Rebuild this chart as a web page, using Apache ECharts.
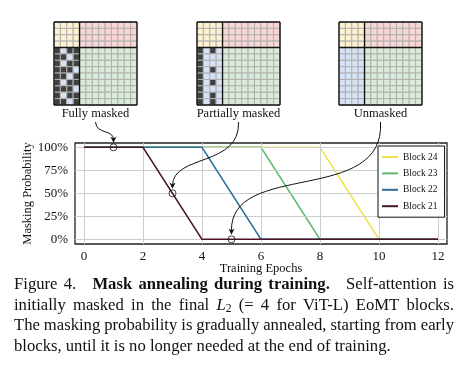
<!DOCTYPE html>
<html><head><meta charset="utf-8">
<script src="https://cdn.jsdelivr.net/npm/echarts@6/dist/echarts.min.js"></script>
<style>html,body{margin:0;padding:0;background:#fff;} #c{width:471px;height:367px;}</style>
</head><body><div id="c"></div>
<script>
// ---------------- data ----------------
const epochs = [0,1,2,3,4,5,6,7,8,9,10,11,12];
const block24 = [100,100,100,100,100,100,100,100,100,50,0,0,0];
const block23 = [100,100,100,100,100,100,100,50,0,0,0,0,0];
const block22 = [100,100,100,100,100,50,0,0,0,0,0,0,0];
const block21 = [100,100,100,50,0,0,0,0,0,0,0,0,0];
const seriesNames = ['Block 24','Block 23','Block 22','Block 21'];
const seriesColors = ['#f4e04d','#5db86b','#2b6f98','#4b1426'];
const xTicks = [0,2,4,6,8,10,12];
const yTicks = [0,25,50,75,100];
const annotLabels = ['Fully masked','Partially masked','Unmasked'];
const annotEpoch = [1,3,5];
const annotProb = [100,50,0];
// attention-mask illustration: 4 query tokens, 9 patch tokens; 1 = masked
const nQuery = 4, nPatch = 9;
const mask1 = [[1,0,1,1],[1,1,0,1],[1,0,1,1],[1,1,1,0],[1,1,0,1],[1,0,1,1],[1,1,1,0],[1,0,1,1],[1,1,0,1]];
const mask2 = [[1,0,1,0],[1,0,0,0],[1,0,0,0],[1,0,1,0],[1,0,0,0],[1,0,1,0],[1,0,0,0],[1,0,1,0],[1,0,1,0]];
const mask3 = [[0,0,0,0],[0,0,0,0],[0,0,0,0],[0,0,0,0],[0,0,0,0],[0,0,0,0],[0,0,0,0],[0,0,0,0],[0,0,0,0]];
const masks = [mask1, mask2, mask3];

// ---------------- style ----------------
const FF = 'Liberation Serif';
const TXT = '#111';
const cellColors = ['#fdf1cf','#f9d6d5','#d6e3f7','#d9ecd9','#404040'];

const chart = echarts.init(document.getElementById('c'), null, {renderer:'canvas'});

const N = nQuery + nPatch;
function cellData(mask){
  const d = [];
  for (let r = 0; r < N; r++) for (let c = 0; c < N; c++) {
    let t;
    if (r < nQuery) t = c < nQuery ? 0 : 1;
    else t = c < nQuery ? (mask[r-nQuery][c] ? 4 : 2) : 3;
    d.push([c, r, t]);
  }
  return d;
}
const segData = [[0,0,N,0],[N,0,N,N],[N,N,0,N],[0,N,0,0],[nQuery,0,nQuery,N],[0,nQuery,N,nQuery]];
function renderCell(params, api){
  const p = api.coord([api.value(0), api.value(1)]);
  const s = api.size([1,1]);
  return {type:'rect', shape:{x:p[0], y:p[1], width:s[0], height:s[1]},
    style:{fill: cellColors[api.value(2)], stroke:'#b0b0b0', lineWidth:1}};
}
function renderSeg(params, api){
  const a = api.coord([api.value(0), api.value(1)]);
  const b = api.coord([api.value(2), api.value(3)]);
  return {type:'line', shape:{x1:a[0],y1:a[1],x2:b[0],y2:b[1]}, style:{stroke:'#151515', lineWidth:1.4}};
}

const matLeft = [54, 197, 339];
const grids = [{left:75, right:24, top:143, bottom:123, show:true, borderColor:'#222', borderWidth:1.3, backgroundColor:'transparent'}];
const xAxes = [{type:'value', gridIndex:0, min:-0.305, max:12.305,
  axisLine:{show:false}, axisTick:{show:false}, splitLine:{show:false},
  axisLabel:{customValues:xTicks, fontFamily:FF, fontSize:13, color:TXT, margin:6},
  name:'Training Epochs', nameLocation:'middle', nameGap:18, nameMoveOverlap:false,
  nameTextStyle:{fontFamily:FF, fontSize:12.5, color:TXT, verticalAlign:'top'}}];
const yAxes = [{type:'value', gridIndex:0, min:-5.1, max:104.7,
  axisLine:{show:false}, axisTick:{show:false}, splitLine:{show:false},
  axisLabel:{customValues:yTicks, formatter:'{value}%', fontFamily:FF, fontSize:13, color:TXT, margin:7},
  name:'Masking Probability', nameLocation:'middle', nameGap:41, nameMoveOverlap:false,
  nameTextStyle:{fontFamily:FF, fontSize:12.5, color:TXT}}];
const series = [];
series.push({type:'line', xAxisIndex:0, yAxisIndex:0, data:[], z:1, silent:true,
  markLine:{silent:true, symbol:['none','none'], label:{show:false}, animation:false,
    lineStyle:{color:'#cdcdcd', width:1, type:'solid'},
    data: xTicks.map(v=>({xAxis:v})).concat(yTicks.map(v=>({yAxis:v})))}});
const blocks = [block24, block23, block22, block21];
blocks.forEach((b,i)=>{
  series.push({type:'line', name:seriesNames[i], xAxisIndex:0, yAxisIndex:0, color:seriesColors[i],
    data: epochs.map((e,k)=>[e,b[k]]), symbol:'none', z:3+i,
    lineStyle:{color:seriesColors[i], width:1.6}});
});
series.push({type:'scatter', xAxisIndex:0, yAxisIndex:0, z:10, symbol:'circle', symbolSize:7,
  data: annotEpoch.map((e,i)=>[e, annotProb[i]]),
  itemStyle:{color:'rgba(0,0,0,0)', borderColor:'#111', borderWidth:1}});

matLeft.forEach((l,i)=>{
  grids.push({left:l, top:22, width:83, height:83});
  xAxes.push({type:'value', gridIndex:i+1, min:0, max:N, show:false});
  yAxes.push({type:'value', gridIndex:i+1, min:0, max:N, inverse:true, show:false});
  series.push({type:'custom', xAxisIndex:i+1, yAxisIndex:i+1, renderItem:renderCell, data:cellData(masks[i]), clip:false, silent:true});
  series.push({type:'custom', xAxisIndex:i+1, yAxisIndex:i+1, renderItem:renderSeg, data:segData, clip:false, silent:true, z:5});
});

chart.setOption({
  animation:false,
  backgroundColor:'#fff',
  grid: grids, xAxis: xAxes, yAxis: yAxes, series: series,
  legend:{data:seriesNames, orient:'vertical', left:378, top:146, icon:'rect', itemWidth:16, itemHeight:2,
    itemGap:4.4, padding:[5,7,5,4], backgroundColor:'#fff', borderColor:'#111', borderWidth:1,
    selectedMode:false, textStyle:{fontFamily:FF, fontSize:9.5, color:TXT, lineHeight:12}, z:20}
});

// ---------------- annotations (labels + arrows) ----------------
const graphics = [];
const labelY = 114;
annotLabels.forEach((lab,i)=>{
  const cx = matLeft[i] + 41.5;
  graphics.push({type:'text', x:cx, y:labelY, z:50, style:{text:lab, font:'12.5px "'+FF+'"', fill:TXT, align:'center', verticalAlign:'middle'}});
  const tgt = chart.convertToPixel({gridIndex:0}, [annotEpoch[i], annotProb[i]]);
  const sx = cx, sy = labelY + 8;
  const ex = tgt[0], ey = tgt[1] - 4.5; // tip at top of circle
  const bx = ex, by = ey - 3;
  let c1, c2;
  if (i === 0) { c1 = [sx+1, sy+13]; c2 = [bx, by-11]; }
  else if (i === 1) { c1 = [sx+2, sy+45]; c2 = [bx, by-32]; }
  else { c1 = [sx+5, sy+84]; c2 = [bx-3, by-72]; }
  graphics.push({type:'bezierCurve', z:50, shape:{x1:sx,y1:sy,x2:bx,y2:by,cpx1:c1[0],cpy1:c1[1],cpx2:c2[0],cpy2:c2[1]},
    style:{stroke:'#111', lineWidth:1, fill:null}});
  graphics.push({type:'polygon', z:51, shape:{points:[[ex-3,ey-6],[ex,ey],[ex+3,ey-6],[ex,ey-4.5]]}, style:{fill:'#111'}});
});

// ---------------- caption ----------------
const cv = document.createElement('canvas').getContext('2d');
function fontStr(sz, b, it){ return (it?'italic ':'') + (b?'bold ':'') + sz + 'px "' + FF + '"'; }
function mw(t, f){ cv.font = f; return cv.measureText(t).width; }
const S = (t,o)=>Object.assign({t:t}, o||{});
const captionLines = [
  {j:true, y:285, words:[{s:[S('Figure')]},{s:[S('4.')],g:2.6},{s:[S('Mask',{b:1})]},{s:[S('annealing',{b:1})]},{s:[S('during',{b:1})]},{s:[S('training.',{b:1})],g:2.6},{s:[S('Self-attention')]},{s:[S('is')]}]},
  {j:true, y:305.5, words:['initially','masked','in','the','final',{s:[S('L',{i:1}),S('2',{sub:1})]},'(=','4','for','ViT-L)','EoMT','blocks.']},
  {j:true, y:326, words:'The masking probability is gradually annealed, starting from early'.split(' ')},
  {j:false, y:346.3, words:'blocks, until it is no longer needed at the end of training.'.split(' ')}
];
const lastLine = 'blocks, until it is no longer needed at the end of training.';
let fs = 15 * 377 / mw(lastLine, fontStr(15));
fs = Math.max(13, Math.min(17, fs));
const X0 = 14, X1 = 454;
captionLines.forEach(line=>{
  const words = line.words.map(w => typeof w === 'string' ? {s:[S(w)]} : w);
  words.forEach(w=>{
    w.w = 0;
    w.s.forEach(seg=>{
      seg.sz = seg.sub ? fs*0.7 : fs;
      seg.f = fontStr(seg.sz, seg.b, seg.i);
      seg.w = mw(seg.t, seg.f);
      w.w += seg.w;
    });
  });
  const total = words.reduce((a,w)=>a+w.w, 0);
  let unit;
  const weights = words.slice(0,-1).map(w=>w.g||1);
  const sumW = weights.reduce((a,b)=>a+b,0);
  if (line.j) unit = (X1 - X0 - total) / sumW;
  else unit = mw(' ', fontStr(fs));
  let x = X0;
  words.forEach((w,k)=>{
    let sx = x;
    w.s.forEach(seg=>{
      graphics.push({type:'text', x:sx, y:line.y + (seg.sub ? 3.5 : 0), z:50,
        style:{text:seg.t, font:seg.f, fill:TXT, align:'left', verticalAlign:'middle'}});
      sx += seg.w;
    });
    x += w.w + (k < words.length-1 ? unit*weights[k] : 0);
  });
});
chart.setOption({graphic: graphics});
</script></body></html>
